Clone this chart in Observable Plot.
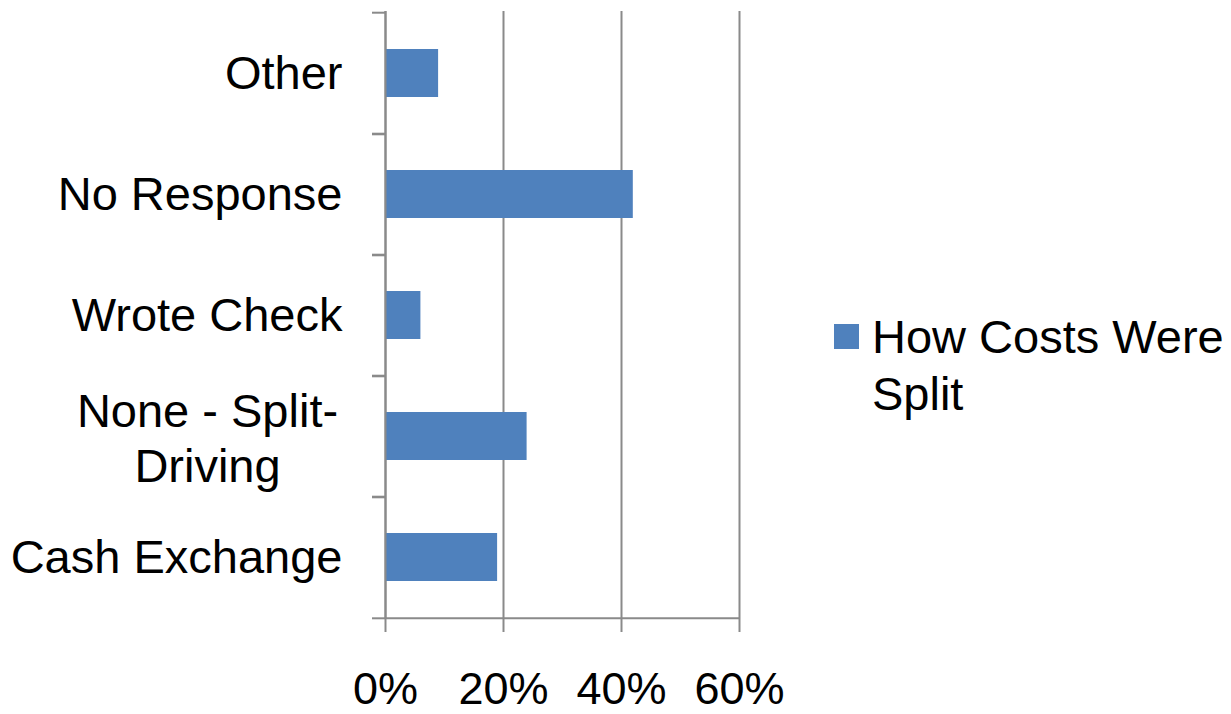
<!DOCTYPE html>
<html>
<head>
<meta charset="utf-8">
<script src="https://cdn.jsdelivr.net/npm/d3@7"></script>
<script src="https://cdn.jsdelivr.net/npm/@observablehq/plot@0.6"></script>
<style>
  html, body { margin: 0; padding: 0; background: #fff; }
  #wrap { position: relative; width: 1231px; height: 714px; font-family: "Liberation Sans", Arial, sans-serif; }
  #legend { position: absolute; left: 834px; top: 308px; display: flex; align-items: flex-start; }
  #legend .sw { width: 25px; height: 25px; background: #4f81bd; margin-top: 16px; margin-right: 13px; flex: none; }
  #legend .lb { font-size: 47px; line-height: 57px; color: #000; white-space: nowrap; }
</style>
</head>
<body>
<div id="wrap"></div>
<script>
const categories = ["Cash Exchange", "None - Split-\nDriving", "Wrote Check", "No Response", "Other"];
const values = [0.19, 0.24, 0.06, 0.42, 0.09];
const xTicks = [0, 0.2, 0.4, 0.6];
const seriesName = ["How Costs Were", "Split"];

const data = categories.map((c, i) => ({category: c, value: values[i]}));
const gray = "#8a8a8a";
const halfStep = 608 / categories.length / 2;

const chart = Plot.plot({
  width: 1231,
  height: 714,
  marginLeft: 385,
  marginRight: 492,
  marginTop: 11,
  marginBottom: 95,
  style: {fontFamily: "'Liberation Sans', Arial, sans-serif", background: "white", color: "black", overflow: "visible"},
  x: {domain: [0, 0.6], label: null},
  y: {domain: categories.slice().reverse(), paddingInner: 0.6, paddingOuter: 0.3, label: null},
  marks: [
    Plot.gridX(xTicks, {stroke: gray, strokeOpacity: 1, strokeWidth: 2}),
    Plot.barX(data, {x: "value", y: "category", fill: "#4f81bd"}),
    Plot.ruleX([0], {stroke: gray, strokeWidth: 2}),
    Plot.ruleY([categories[0]], {dy: halfStep, stroke: gray, strokeWidth: 2}),
    Plot.axisX({ticks: xTicks, tickFormat: d3.format(".0%"), tickSize: 13, tickPadding: 40, fontSize: 45, stroke: gray, strokeWidth: 2, fill: "black", label: null}),
    Plot.axisY({tickSize: 0, tickPadding: 43, fontSize: 47, fill: "black", tickFormat: d => d.includes("\n") ? "" : d, label: null}),
    Plot.axisY({tickSize: 13, tickFormat: () => "", dy: -halfStep, stroke: gray, strokeWidth: 2, label: null}),
    Plot.axisY({tickSize: 13, tickFormat: () => "", dy: halfStep, stroke: gray, strokeWidth: 2, label: null}),
    Plot.text(data.filter(d => d.category.includes("\n")), {y: "category", text: "category", frameAnchor: "left", textAnchor: "middle", dx: -178, fontSize: 47, lineHeight: 1.17, fill: "black"})
  ]
});
const wrap = document.getElementById("wrap");
wrap.appendChild(chart);
const legend = document.createElement("div");
legend.id = "legend";
legend.innerHTML = `<div class="sw"></div><div class="lb">${seriesName[0]}<br>${seriesName[1]}</div>`;
wrap.appendChild(legend);
</script>
</body>
</html>
